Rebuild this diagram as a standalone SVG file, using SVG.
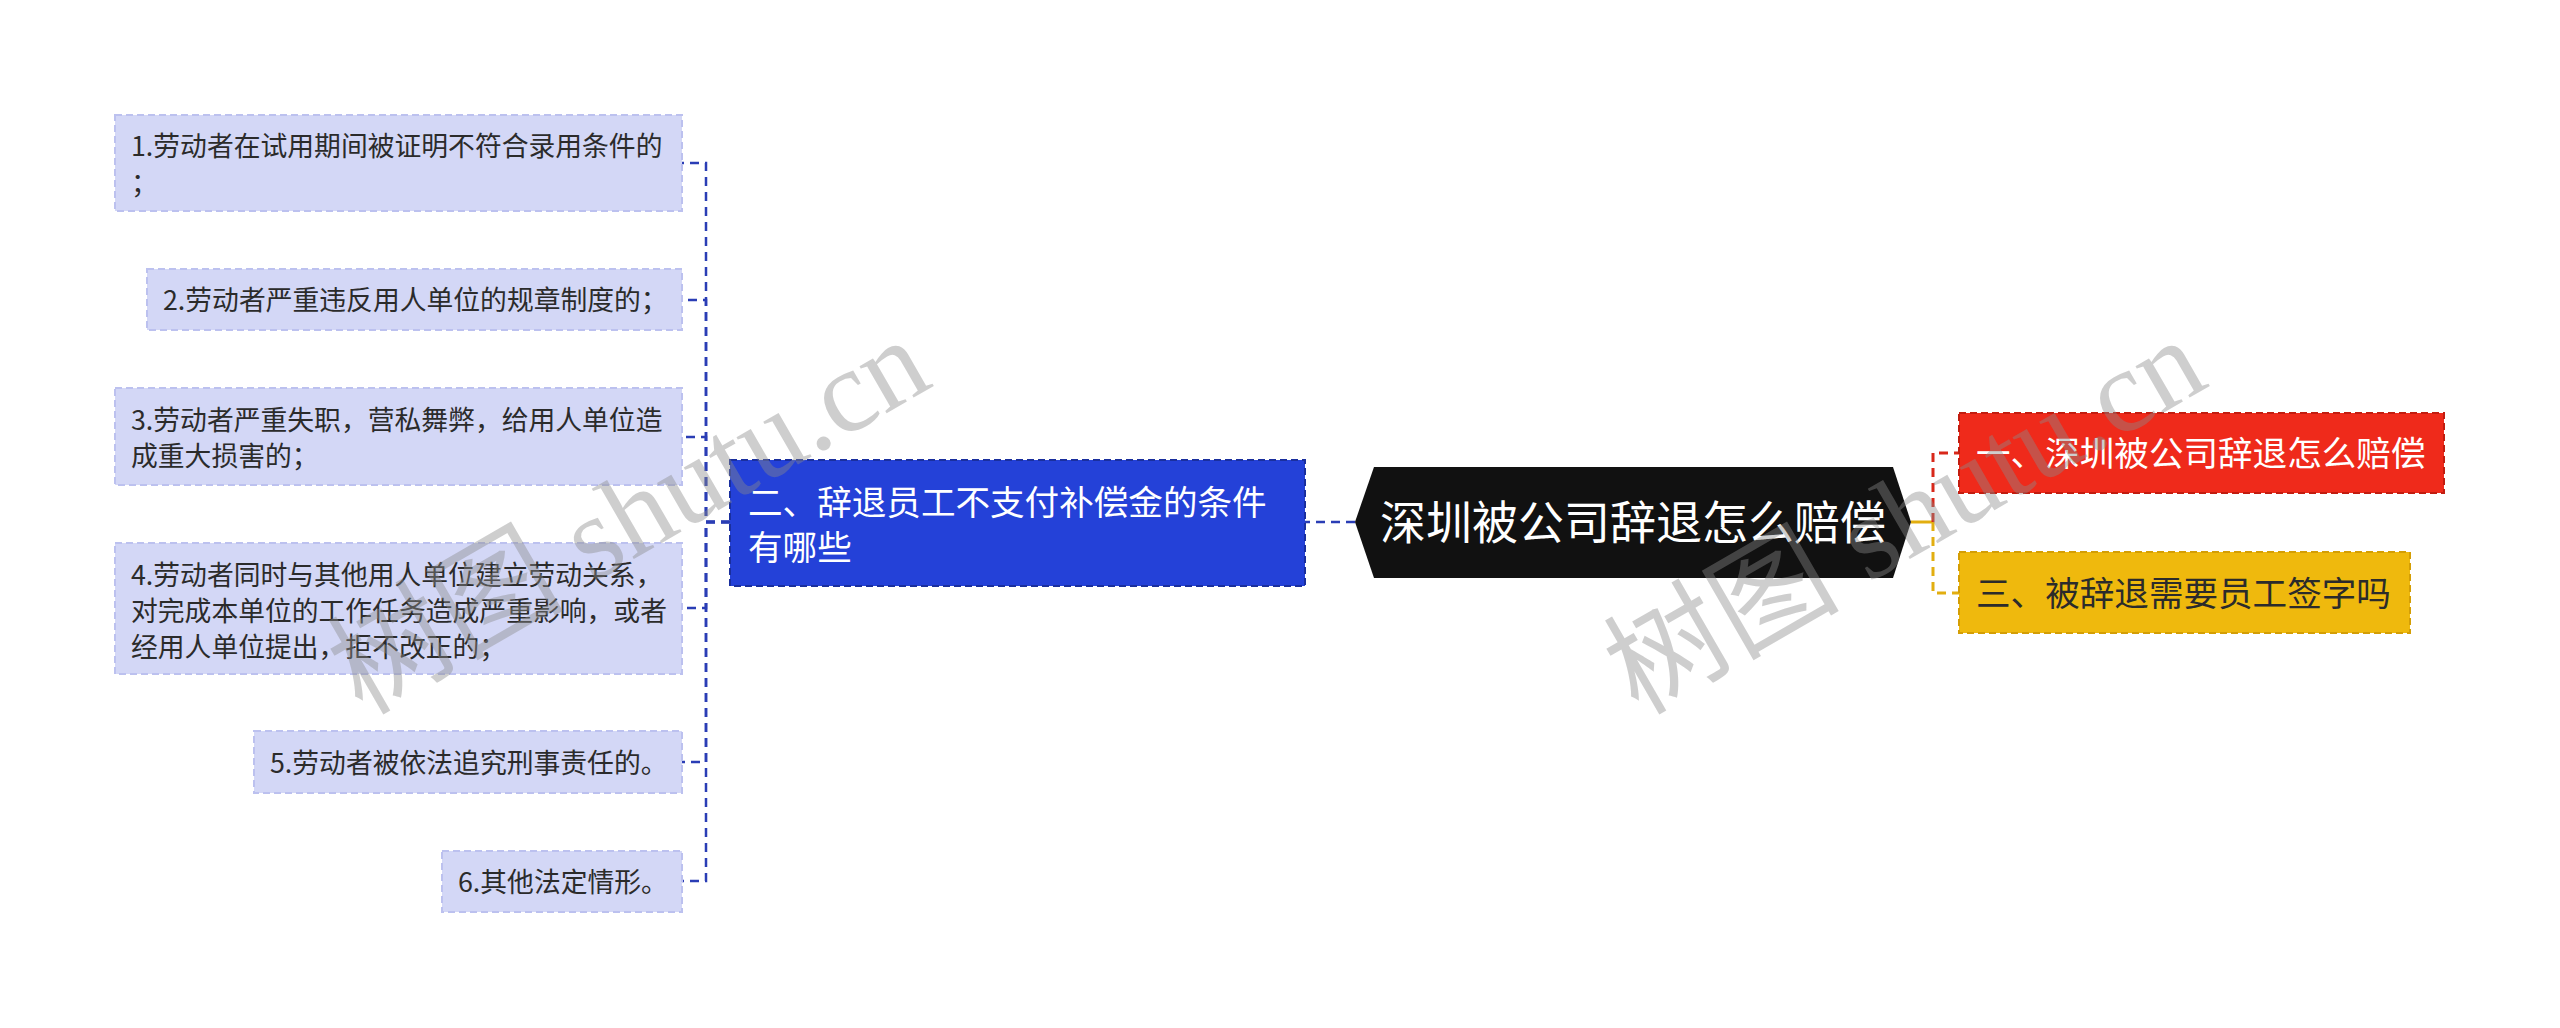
<svg xmlns="http://www.w3.org/2000/svg" width="2560" height="1028" viewBox="0 0 2560 1028">
<style>
text{font-family:"Noto Sans CJK SC","Liberation Sans",sans-serif;}
.leaf rect{fill:#d3d7f6;stroke:#bcc1ef;stroke-width:2;stroke-dasharray:7 4;}
.leaf text{font-size:26.8px;fill:#2b2b2b;}
.c-blue{fill:none;stroke:#2a3db5;stroke-width:2.5;stroke-dasharray:9 6;}
.c-red{fill:none;stroke:#d8281a;stroke-width:3;stroke-dasharray:9 6;}
.c-yel{fill:none;stroke:#e2ae10;stroke-width:3;stroke-dasharray:9 6;}
.wm{font-family:"Liberation Serif","Noto Sans CJK SC",serif;font-size:118px;fill:#8a8a8a;fill-opacity:0.42;}
</style>
<rect x="0" y="0" width="2560" height="1028" fill="#ffffff"/>

<g id="connectors">
  <path class="c-blue" d="M1355 522 H1305"/>
  <path class="c-blue" d="M730 522 H706 V163 H682"/>
  <path class="c-blue" d="M730 522 H706 V300 H682"/>
  <path class="c-blue" d="M730 522 H706 V437 H682"/>
  <path class="c-blue" d="M730 522 H706 V608 H682"/>
  <path class="c-blue" d="M730 522 H706 V762 H682"/>
  <path class="c-blue" d="M730 522 H706 V881 H682"/>
  <path d="M1911 522 H1933" stroke="#e2ae10" stroke-width="3" fill="none"/>
  <path class="c-red" d="M1933 522 V453 H1959"/>
  <path class="c-yel" d="M1933 522 V593 H1959"/>
</g>

<g id="root">
  <polygon points="1355,522 1374,467 1893,467 1911,522 1893,578 1374,578" fill="#111111"/>
  <text x="1633" y="539" text-anchor="middle" font-size="46" fill="#ffffff">深圳被公司辞退怎么赔偿</text>
</g>

<g id="n1">
  <rect x="1959" y="413" width="485" height="80" fill="#ef2a1b" stroke="#c21d10" stroke-width="2" stroke-dasharray="7 4"/>
  <text x="1976" y="466" font-size="34.6" fill="#ffffff">一、深圳被公司辞退怎么赔偿</text>
</g>

<g id="n3">
  <rect x="1959" y="552" width="451" height="81" fill="#efb90d" stroke="#d49e05" stroke-width="2" stroke-dasharray="7 4"/>
  <text x="1976" y="606" font-size="34.6" fill="#2b2b2b">三、被辞退需要员工签字吗</text>
</g>

<g id="n2">
  <rect x="730" y="460" width="575" height="126" fill="#2441d8" stroke="#1a2f9e" stroke-width="2" stroke-dasharray="7 4"/>
  <text x="748" y="515" font-size="34.6" fill="#ffffff">二、辞退员工不支付补偿金的条件</text>
  <text x="748" y="560" font-size="34.6" fill="#ffffff">有哪些</text>
</g>

<g id="leaf1" class="leaf">
  <rect x="115" y="115" width="567" height="96"/>
  <text x="131" y="156">1.劳动者在试用期间被证明不符合录用条件的</text>
  <text x="131" y="193">；</text>
</g>

<g id="leaf2" class="leaf">
  <rect x="147" y="269" width="535" height="61"/>
  <text x="163" y="310">2.劳动者严重违反用人单位的规章制度的；</text>
</g>

<g id="leaf3" class="leaf">
  <rect x="115" y="388" width="567" height="97"/>
  <text x="131" y="430">3.劳动者严重失职，营私舞弊，给用人单位造</text>
  <text x="131" y="466">成重大损害的；</text>
</g>

<g id="leaf4" class="leaf">
  <rect x="115" y="543" width="567" height="131"/>
  <text x="131" y="585">4.劳动者同时与其他用人单位建立劳动关系，</text>
  <text x="131" y="621">对完成本单位的工作任务造成严重影响，或者</text>
  <text x="131" y="657">经用人单位提出，拒不改正的；</text>
</g>

<g id="leaf5" class="leaf">
  <rect x="254" y="731" width="428" height="62"/>
  <text x="270" y="773">5.劳动者被依法追究刑事责任的。</text>
</g>

<g id="leaf6" class="leaf">
  <rect x="442" y="851" width="240" height="61"/>
  <text x="458" y="892">6.其他法定情形。</text>
</g>

<g id="watermarks">
  <text class="wm" transform="translate(362,716) rotate(-30)">树图 shutu.cn</text>
  <text class="wm" transform="translate(1638,716) rotate(-30)">树图 shutu.cn</text>
</g>
</svg>
